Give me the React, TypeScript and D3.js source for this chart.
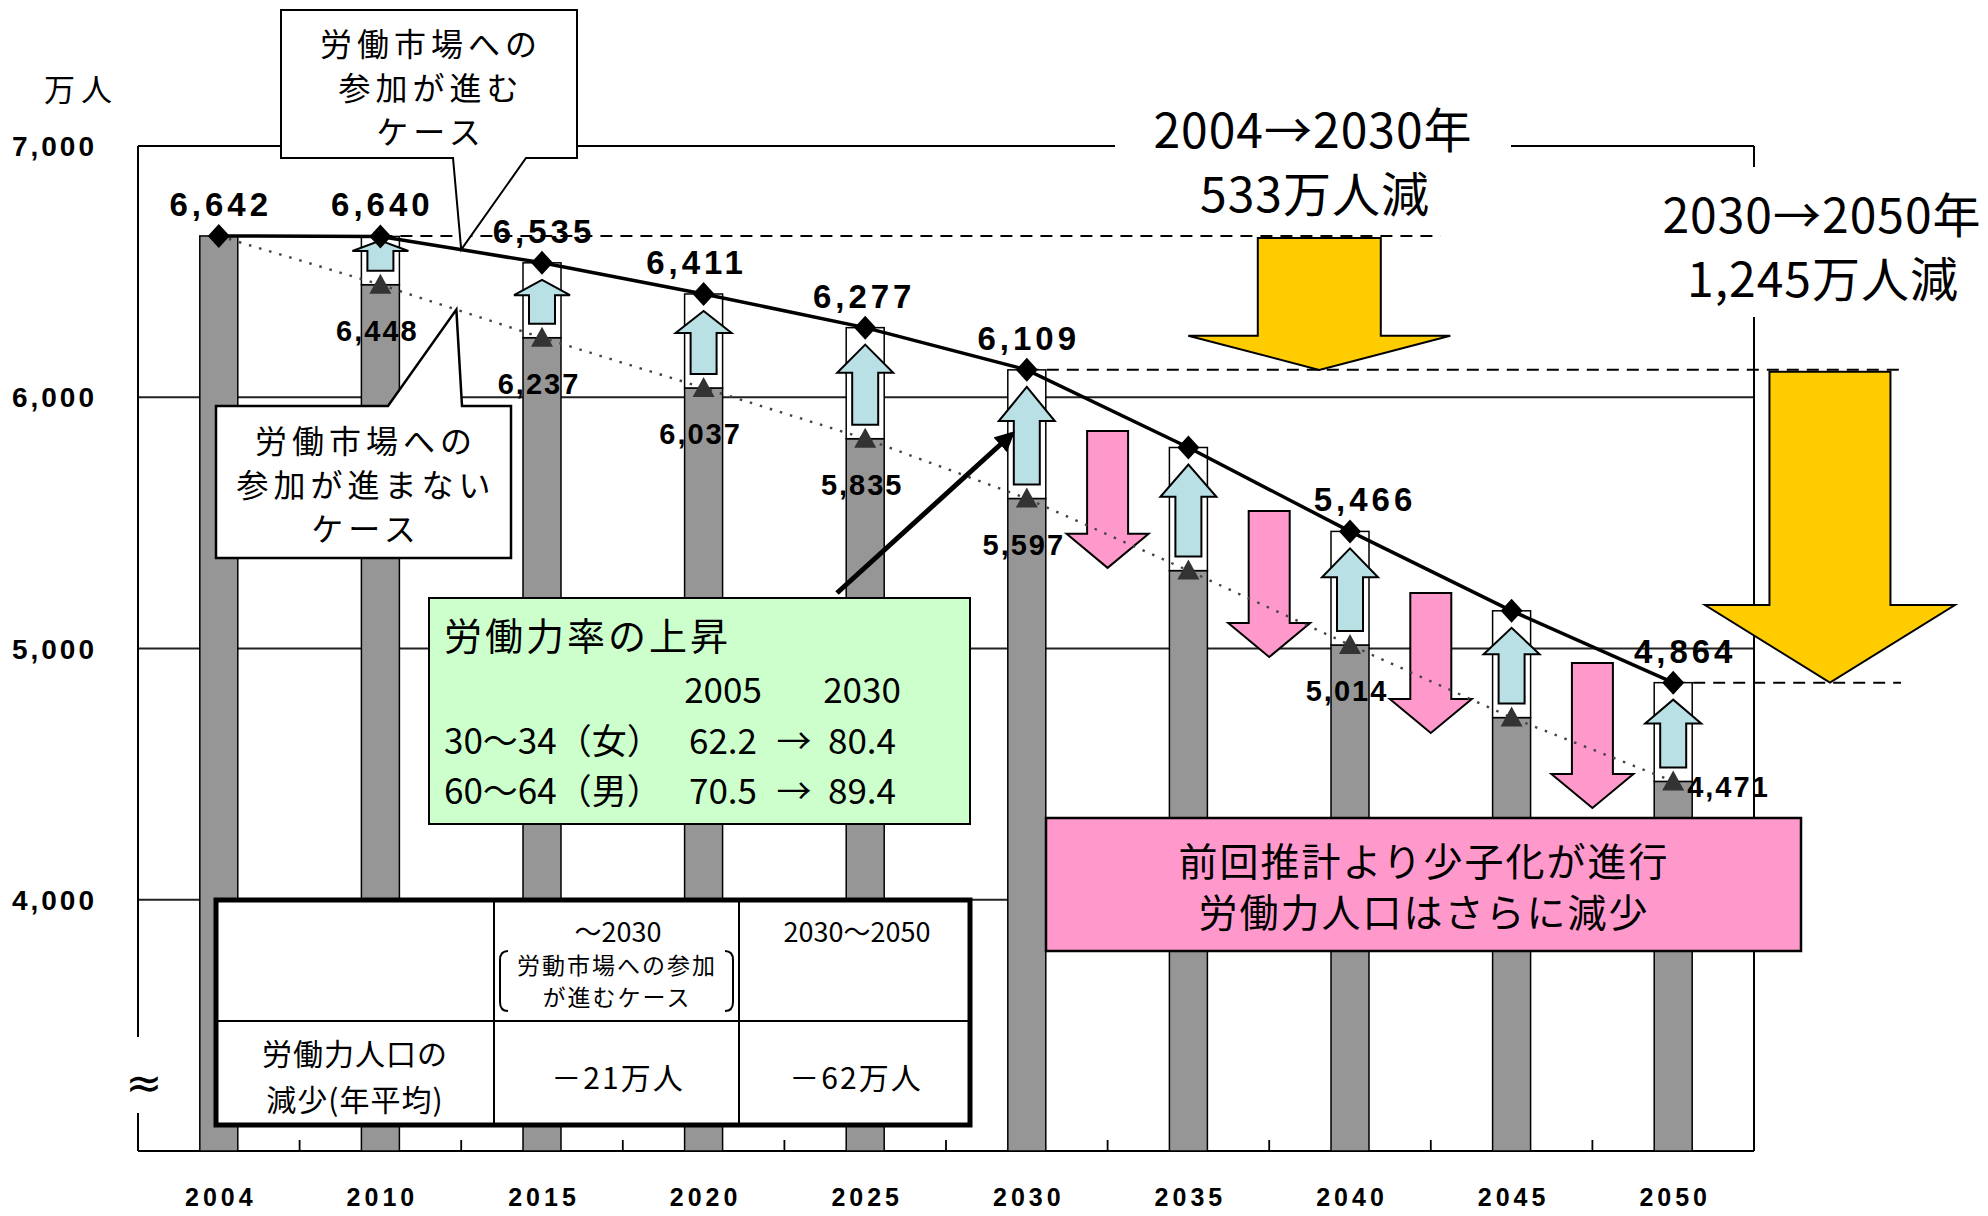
import React from "react";
import * as d3 from "d3";

// ---- data ----
const years = ["2004", "2010", "2015", "2020", "2025", "2030", "2035", "2040", "2045", "2050"];
// 労働市場への参加が進むケース
const advancing = [6642, 6640, 6535, 6411, 6277, 6109, 5800, 5466, 5150, 4864];
// 労働市場への参加が進まないケース
const notAdvancing = [6642, 6448, 6237, 6037, 5835, 5597, 5310, 5014, 4725, 4471];
const showUpperLabel = [true, true, true, true, true, true, false, true, false, true];
const showLowerLabel = [false, true, true, true, true, true, false, true, false, true];
const yTicks = [4000, 5000, 6000, 7000];
const gridValues = [4000, 5000, 6000];

// pink arrows (between categories, boundary index), values
const pinkArrows = [
  { at: 6, from: 5866, to: 5321 },
  { at: 7, from: 5547, to: 4966 },
  { at: 8, from: 5221, to: 4664 },
  { at: 9, from: 4942, to: 4365 },
];
// yellow arrows
const yellowArrows = [
  { at: 7.31, from: 6642, to: 6109, headAt: 6245 },
  { at: 10.47, from: 6109, to: 4864, headAt: 5173 },
];
// dashed reference lines
const dashedRefs = [
  { value: 6642, from: 1.5, to: 8.06 },
  { value: 6109, from: 5.5, to: 10.94 },
  { value: 4864, from: 9.5, to: 10.91 },
];

const rateYears = ["2005", "2030"];
const rateRows = [
  { label: "30〜34（女）", from: "62.2", to: "80.4" },
  { label: "60〜64（男）", from: "70.5", to: "89.4" },
];

const tableHead = ["〜2030", "2030〜2050"];
const tableSub = ["労動市場への参加", "が進むケース"];
const tableRowLabel = ["労働力人口の", "減少(年平均)"];
const tableValues = ["－21万人", "－62万人"];

const fmt = d3.format(",");

function blockArrow(c: number, y0: number, y1: number, sw: number, hw: number, hl: number) {
  const s = y1 > y0 ? 1 : -1;
  const yb = y1 - s * hl;
  return `M${c - sw},${y0}H${c + sw}V${yb}H${c + hw}L${c},${y1}L${c - hw},${yb}H${c - sw}Z`;
}

export default function App() {
  const W = 1988, H = 1216;
  const L = 138, R = 1754, T = 146, B = 1151;
  const y = d3.scaleLinear().domain([3000, 7000]).range([B, T]);
  const x = d3.scaleBand<string>().domain(years).range([L, R]).padding(0);
  const xi = d3.scaleLinear().domain([0, years.length]).range([L, R]);
  const cx = (i: number) => (x(years[i]) as number) + x.bandwidth() / 2;
  const barW = 38;
  const jp = "'Noto Sans CJK JP', 'Noto Sans', sans-serif";
  const num = "'Liberation Sans', Arial, sans-serif";
  const upperLabelDx = [0, 0, 0, -9, -3, 0, 0, 13, 0, 10];

  const upperLine = d3.line<number>().x((_, i) => cx(i)).y((d) => y(d))(advancing) as string;
  const lowerLine = d3.line<number>().x((_, i) => cx(i)).y((d) => y(d))(notAdvancing) as string;

  // callout tips on the lines
  const tip1x = cx(1) + 0.5 * x.bandwidth();
  const tip1y = y(advancing[1] + 0.5 * (advancing[2] - advancing[1]));
  const tip2x = cx(1) + 0.47 * x.bandwidth();
  const tip2y = y(notAdvancing[1] + 0.47 * (notAdvancing[2] - notAdvancing[1]));

  return (
    <div style={{ position: "absolute", left: 0, top: 0, background: "#fff" }}>
      <svg width={W} height={H} viewBox={`0 0 ${W} ${H}`} style={{ display: "block" }}>
        <defs>
          <marker id="ah" viewBox="0 0 10 10" refX="8" refY="5" markerWidth="4" markerHeight="4" orient="auto">
            <path d="M0,0L10,5L0,10Z" fill="#000" />
          </marker>
        </defs>
        <rect x={0} y={0} width={W} height={H} fill="#fff" />

        {/* unit label */}
        <text x={44} y={101} fontFamily={jp} fontSize={31} letterSpacing={6}>万人</text>

        {/* y tick labels */}
        {yTicks.map((t) => (
          <text key={t} x={97} y={y(t) + 10} textAnchor="end" fontFamily={num} fontWeight="bold" fontSize={28} letterSpacing={3}>
            {fmt(t)}
          </text>
        ))}

        {/* gridlines */}
        {gridValues.map((g) => (
          <line key={g} x1={L} x2={R} y1={y(g)} y2={y(g)} stroke="#222" strokeWidth={1.8} />
        ))}

        {/* frame */}
        <line x1={L} x2={L} y1={T} y2={1037} stroke="#000" strokeWidth={2} />
        <line x1={L} x2={L} y1={1113} y2={B} stroke="#000" strokeWidth={2} />
        <line x1={L} x2={R} y1={B} y2={B} stroke="#000" strokeWidth={2.2} />
        <line x1={L} x2={1115} y1={T} y2={T} stroke="#000" strokeWidth={2} />
        <line x1={1511} x2={R} y1={T} y2={T} stroke="#000" strokeWidth={2} />
        <line x1={R} x2={R} y1={T} y2={167} stroke="#000" strokeWidth={2} />
        <line x1={R} x2={R} y1={317} y2={B} stroke="#000" strokeWidth={2} />
        <text x={144} y={1098} textAnchor="middle" fontFamily="'DejaVu Sans', sans-serif" fontSize={44}>≈</text>

        {/* x ticks */}
        {d3.range(1, years.length).map((k) => (
          <line key={k} x1={xi(k)} x2={xi(k)} y1={B} y2={B - 11} stroke="#000" strokeWidth={1.8} />
        ))}
        {years.map((yr, i) => (
          <text key={yr} x={cx(i) + 2} y={1206} textAnchor="middle" fontFamily={num} fontWeight="bold" fontSize={25} letterSpacing={4}>
            {yr}
          </text>
        ))}

        {/* dashed reference lines */}
        {dashedRefs.map((d, i) => (
          <line key={i} x1={xi(d.from)} x2={xi(d.to)} y1={y(d.value)} y2={y(d.value)} stroke="#000" strokeWidth={2} strokeDasharray="12,8" />
        ))}

        {/* bars */}
        {years.map((yr, i) => (
          <g key={yr}>
            <rect x={cx(i) - barW / 2} y={y(notAdvancing[i])} width={barW} height={B - y(notAdvancing[i])} fill="#969696" stroke="#000" strokeWidth={1.5} />
            {i > 0 && (
              <rect x={cx(i) - barW / 2} y={y(advancing[i])} width={barW} height={y(notAdvancing[i]) - y(advancing[i])} fill="#fff" stroke="#000" strokeWidth={1.5} />
            )}
          </g>
        ))}

        {/* blue up arrows */}
        {years.map((yr, i) => {
          if (i === 0) return null;
          const yl = y(notAdvancing[i]) - 14;
          const span = y(notAdvancing[i]) - y(advancing[i]);
          const yu = y(advancing[i]) + (span < 60 ? 4 : 17);
          const hl = 0.35 * (yl - yu);
          return <path key={yr} d={blockArrow(cx(i), yl, yu, 13, 28, hl)} fill="#B9E0E4" stroke="#000" strokeWidth={2} />;
        })}

        {/* pink arrows */}
        {pinkArrows.map((p, i) => (
          <path key={i} d={blockArrow(xi(p.at), y(p.from), y(p.to), 20.5, 41, 34)} fill="#FF99CC" stroke="#000" strokeWidth={2} />
        ))}

        {/* yellow arrows */}
        {yellowArrows.map((a, i) => {
          const c = xi(a.at);
          const y0 = y(a.from) + 2;
          const yb = y(a.headAt);
          const y1 = y(a.to);
          const sw = i === 0 ? 61.5 : 60.5;
          const hw = i === 0 ? 131 : 125;
          return (
            <path key={i} d={`M${c - sw},${y0}H${c + sw}V${yb}H${c + hw}L${c},${y1}L${c - hw},${yb}H${c - sw}Z`} fill="#FFCC00" stroke="#000" strokeWidth={2} />
          );
        })}

        {/* lines */}
        <path d={lowerLine} fill="none" stroke="#444" strokeWidth={2.4} strokeDasharray="2.5,8" />
        <path d={upperLine} fill="none" stroke="#000" strokeWidth={3.5} />

        {/* markers */}
        {years.map((yr, i) => {
          const px = cx(i), py = y(advancing[i]);
          return <path key={"d" + yr} d={`M${px},${py - 12}L${px + 11},${py}L${px},${py + 12}L${px - 11},${py}Z`} fill="#000" />;
        })}
        {years.map((yr, i) => {
          if (i === 0) return null;
          const px = cx(i), py = y(notAdvancing[i]);
          return <path key={"t" + yr} d={`M${px},${py - 11}L${px + 11},${py + 9}L${px - 11},${py + 9}Z`} fill="#333" />;
        })}

        {/* value labels */}
        {years.map((yr, i) =>
          showUpperLabel[i] ? (
            <text key={"u" + yr} x={cx(i) + 2 + upperLabelDx[i]} y={y(advancing[i]) - 20} textAnchor="middle" fontFamily={num} fontWeight="bold" fontSize={33} letterSpacing={4}>
              {fmt(advancing[i])}
            </text>
          ) : null
        )}
        {years.map((yr, i) => {
          if (!showLowerLabel[i]) return null;
          const last = i === years.length - 1;
          return (
            <text key={"l" + yr} x={last ? cx(i) + 14 : cx(i) - 3} y={last ? y(notAdvancing[i]) + 16 : y(notAdvancing[i]) + 56} textAnchor={last ? "start" : "middle"} fontFamily={num} fontWeight="bold" fontSize={29} letterSpacing={2}>
              {fmt(notAdvancing[i])}
            </text>
          );
        })}

        {/* decrease annotations */}
        <g fontFamily={jp} fontSize={48} textAnchor="middle" letterSpacing={1}>
          <text x={1313} y={148}>2004→2030年</text>
          <text x={1315} y={212}>533万人減</text>
          <text x={1822} y={233}>2030→2050年</text>
          <text x={1823} y={297}>1,245万人減</text>
        </g>

        {/* callout 1 */}
        <path d={`M281,10H577V158H526L${tip1x},${tip1y}L453,158H281Z`} fill="#fff" stroke="#000" strokeWidth={2} />
        <g fontFamily={jp} fontSize={32} textAnchor="middle" letterSpacing={5}>
          <text x={431} y={56}>労働市場への</text>
          <text x={431} y={100}>参加が進む</text>
          <text x={431} y={144}>ケース</text>
        </g>

        {/* callout 2 */}
        <path d={`M216,406H388L${tip2x},${tip2y}L462,406H511V558H216Z`} fill="#fff" stroke="#000" strokeWidth={2.5} />
        <g fontFamily={jp} fontSize={32} textAnchor="middle" letterSpacing={5}>
          <text x={366} y={453}>労働市場への</text>
          <text x={366} y={497}>参加が進まない</text>
          <text x={366} y={541}>ケース</text>
        </g>

        {/* green box */}
        <rect x={429} y={598} width={541} height={226} fill="#CCFFCC" stroke="#000" strokeWidth={2} />
        <g fontFamily={jp} fontSize={35}>
          <text x={444} y={650} fontSize={38} letterSpacing={3}>労働力率の上昇</text>
          {rateYears.map((ry, k) => (
            <text key={ry} x={k === 0 ? 723 : 862} y={703} textAnchor="middle">{ry}</text>
          ))}
          {rateRows.map((r, k) => (
            <g key={r.label}>
              <text x={444} y={754 + k * 50}>{r.label}</text>
              <text x={723} y={754 + k * 50} textAnchor="middle">{r.from}</text>
              <text x={794} y={754 + k * 50} textAnchor="middle">→</text>
              <text x={862} y={754 + k * 50} textAnchor="middle">{r.to}</text>
            </g>
          ))}
        </g>
        <line x1={837} y1={593} x2={1012} y2={434} stroke="#000" strokeWidth={5} markerEnd="url(#ah)" />

        {/* pink box */}
        <rect x={1046} y={818} width={755} height={133} fill="#FF99CC" stroke="#000" strokeWidth={2.5} />
        <g fontFamily={jp} fontSize={39} textAnchor="middle" letterSpacing={2}>
          <text x={1424} y={876}>前回推計より少子化が進行</text>
          <text x={1424} y={927}>労働力人口はさらに減少</text>
        </g>

        {/* table */}
        <rect x={216} y={900} width={754} height={225} fill="#fff" stroke="none" />
        <line x1={494} x2={494} y1={900} y2={1125} stroke="#000" strokeWidth={2} />
        <line x1={739} x2={739} y1={900} y2={1125} stroke="#000" strokeWidth={2} />
        <line x1={216} x2={970} y1={1021} y2={1021} stroke="#000" strokeWidth={2} />
        <rect x={216} y={900} width={754} height={225} fill="none" stroke="#000" strokeWidth={5} />
        <g fontFamily={jp} textAnchor="middle">
          <text x={618} y={942} fontSize={27}>{tableHead[0]}</text>
          <text x={857} y={942} fontSize={27}>{tableHead[1]}</text>
          <text x={617} y={974} fontSize={23} letterSpacing={2}>{tableSub[0]}</text>
          <text x={617} y={1006} fontSize={23} letterSpacing={2}>{tableSub[1]}</text>
          <text x={355} y={1065} fontSize={30} letterSpacing={1}>{tableRowLabel[0]}</text>
          <text x={355} y={1111} fontSize={30} letterSpacing={1}>{tableRowLabel[1]}</text>
          <text x={618} y={1089} fontSize={30} letterSpacing={2}>{tableValues[0]}</text>
          <text x={856} y={1089} fontSize={30} letterSpacing={2}>{tableValues[1]}</text>
        </g>
        <path d="M508,951Q500,951 500,960V1002Q500,1011 508,1011" fill="none" stroke="#000" strokeWidth={2} />
        <path d="M725,951Q733,951 733,960V1002Q733,1011 725,1011" fill="none" stroke="#000" strokeWidth={2} />
      </svg>
    </div>
  );
}
